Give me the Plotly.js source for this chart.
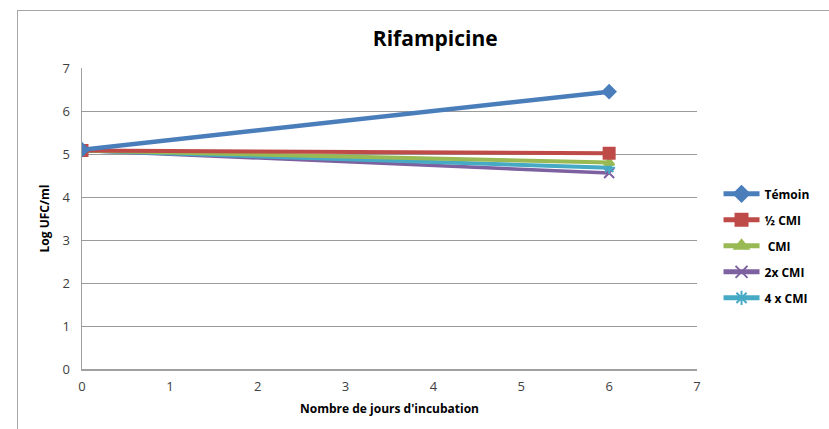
<!DOCTYPE html>
<html><head><meta charset="utf-8">
<script src="https://cdn.plot.ly/plotly-3.0.1.min.js"></script>
<style>
html,body{margin:0;padding:0;background:#fff;}
#frame{position:absolute;left:17px;top:10px;width:820px;height:430px;border-left:1.5px solid #a6a6a6;border-top:1.5px solid #a6a6a6;pointer-events:none;z-index:5;}
#chart{width:829px;height:429px;}
</style>
</head><body>
<div id="frame"></div>
<div id="chart"></div>
<script>
const days = [0, 6];
const seriesNames = ["Témoin", "½ CMI", " CMI", "2x CMI", "4 x CMI"];
const temoin = [5.1, 6.45];
const demiCMI = [5.08, 5.02];
const cmi = [5.08, 4.8];
const deuxCMI = [5.08, 4.56];
const quatreCMI = [5.08, 4.68];
const xTicks = [0, 1, 2, 3, 4, 5, 6, 7];
const yTicks = [0, 1, 2, 3, 4, 5, 6, 7];

const colors = ["#4a7ebb", "#be4b48", "#98b954", "#7d60a0", "#46aac5"];
const symbols = ["diamond", "square", "triangle-up", "x-thin-open", "asterisk-open"];
const sizes = [10, 11, 9, 10, 10];
const widths = [4.5, 4, 4, 3.5, 4];
const values = [temoin, demiCMI, cmi, deuxCMI, quatreCMI];

const traces = values.map((v, i) => ({
  x: days, y: v, name: seriesNames[i], type: 'scatter', mode: 'lines+markers',
  legendgroup: 'g' + i, legendrank: i + 1,
  line: {color: colors[i], width: widths[i]},
  marker: {symbol: symbols[i], size: sizes[i], color: colors[i], line: {color: colors[i], width: 2}}
}));
// draw Témoin on top, keep legend order via legendrank
const data = [traces[3], traces[4], traces[2], traces[1], traces[0]];

const layout = {
  width: 829, height: 429,
  margin: {l: 82, r: 132, t: 68, b: 60},
  paper_bgcolor: '#ffffff', plot_bgcolor: '#ffffff',
  font: {family: 'Open Sans, sans-serif', color: '#404040'},
  title: {text: '<b>Rifampicine</b>', x: 0.525, xref: 'container', xanchor: 'center', y: 0.91, yref: 'container', yanchor: 'middle', font: {size: 21, color: '#000000', family: 'Open Sans, sans-serif'}},
  xaxis: {
    range: [0, 7], tickvals: xTicks, ticktext: xTicks.map(String), showgrid: false, zeroline: false,
    showline: true, linecolor: '#a0a0a0', linewidth: 1.5, ticks: '', tickfont: {size: 13, color: '#404040'},
    ticklabelstandoff: 5,
    title: {text: "<b>Nombre de jours d'incubation</b>", font: {size: 12, color: '#000000'}, standoff: 10}
  },
  yaxis: {
    range: [0, 7], tickvals: yTicks, ticktext: yTicks.map(String), showgrid: true, gridcolor: '#9a9a9a', gridwidth: 1,
    zeroline: false, showline: true, linecolor: '#a0a0a0', linewidth: 1.5, ticks: '', tickfont: {size: 13, color: '#404040'},
    ticklabelstandoff: 8,
    title: {text: '<b>Log UFC/ml</b>', font: {size: 12, color: '#000000'}, standoff: 10}
  },
  legend: {x: 1.035, y: 0.63, xanchor: 'left', yanchor: 'top', font: {size: 12, color: '#000000', weight: 'bold'},
    tracegroupgap: 7, itemwidth: 36, bgcolor: 'rgba(0,0,0,0)', traceorder: 'grouped', itemsizing: 'constant'},
  showlegend: true
};
Plotly.newPlot('chart', data, layout, {displayModeBar: false, staticPlot: true});
</script>
</body></html>
